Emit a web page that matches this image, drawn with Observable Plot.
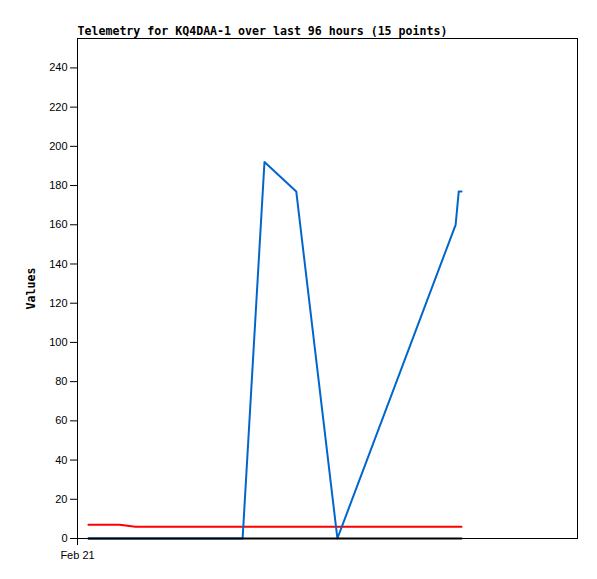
<!DOCTYPE html>
<html>
<head>
<meta charset="utf-8">
<script src="https://cdn.jsdelivr.net/npm/d3@7"></script>
<script src="https://cdn.jsdelivr.net/npm/@observablehq/plot@0.6"></script>
<style>
  html, body { margin: 0; padding: 0; background: #fff; }
  #chart { width: 597px; height: 579px; }
</style>
</head>
<body>
<div id="chart"></div>
<script>
const title = "Telemetry for KQ4DAA-1 over last 96 hours (15 points)";
const yLabel = "Values";
const times = [
  "2024-02-21T02:06Z", "2024-02-21T05:00Z", "2024-02-21T08:06Z", "2024-02-21T11:06Z",
  "2024-02-21T16:00Z", "2024-02-21T21:00Z", "2024-02-22T02:00Z", "2024-02-22T04:30Z",
  "2024-02-22T07:42Z", "2024-02-22T11:54Z", "2024-02-22T18:00Z", "2024-02-23T01:54Z",
  "2024-02-24T00:36Z", "2024-02-24T01:12Z", "2024-02-24T01:44Z"
];
const seriesRed   = [7, 7, 7, 6, 6, 6, 6, 6, 6, 6, 6, 6, 6, 6, 6];
const seriesBlue  = [0, 0, 0, 0, 0, 0, 0, 0, 0, 192, 177, 0, 160, 177, 177];
const seriesBlack = [0, 0, 0, 0, 0, 0, 0, 0, 0, 0, 0, 0, 0, 0, 0];
const yTicks = [0, 20, 40, 60, 80, 100, 120, 140, 160, 180, 200, 220, 240];
const xDomain = ["2024-02-21T00:00Z", "2024-02-25T00:00Z"];
const xTicks = ["2024-02-21T00:00Z"];

const dates = times.map(t => new Date(t));
const build = (vals, name) => vals.map((v, i) => ({t: dates[i], v, s: name}));
const red = build(seriesRed, "red");
const blue = build(seriesBlue, "blue");
const black = build(seriesBlack, "black");

const chart = Plot.plot({
  width: 597,
  height: 579,
  marginLeft: 77,
  marginRight: 20,
  marginTop: 38,
  marginBottom: 41,
  style: {fontFamily: "Liberation Sans, Arial, sans-serif", fontSize: "11px", color: "#000", background: "#fff"},
  x: {type: "utc", domain: xDomain.map(d => new Date(d))},
  y: {domain: [0, 255]},
  marks: [
    Plot.frame({stroke: "#000", strokeOpacity: 1}),
    Plot.axisY({ticks: yTicks, tickSize: 7, tickPadding: 3, label: null, stroke: "#000", strokeOpacity: 1}),
    Plot.axisX({ticks: xTicks.map(d => new Date(d)), tickSize: 7, tickPadding: 6, tickFormat: d3.utcFormat("%b %d"), label: null, stroke: "#000", strokeOpacity: 1}),
    Plot.lineY(red, {x: "t", y: "v", stroke: "#ff0000", strokeWidth: 2}),
    Plot.lineY(blue, {x: "t", y: "v", stroke: "#0066cc", strokeWidth: 2}),
    Plot.lineY(black, {x: "t", y: "v", stroke: "#000000", strokeWidth: 2}),
    Plot.text([title], {frameAnchor: "top-left", dy: -4, text: d => d, textAnchor: "start", lineAnchor: "bottom",
      fontFamily: "DejaVu Sans Mono, monospace", fontWeight: "bold", fontSize: 11.6, fill: "#000"}),
    Plot.text([yLabel], {frameAnchor: "left", dx: -46, rotate: -90, text: d => d, textAnchor: "middle",
      fontFamily: "DejaVu Sans Mono, monospace", fontWeight: "bold", fontSize: 11.6, fill: "#000"})
  ]
});
document.getElementById("chart").appendChild(chart);
</script>
</body>
</html>
